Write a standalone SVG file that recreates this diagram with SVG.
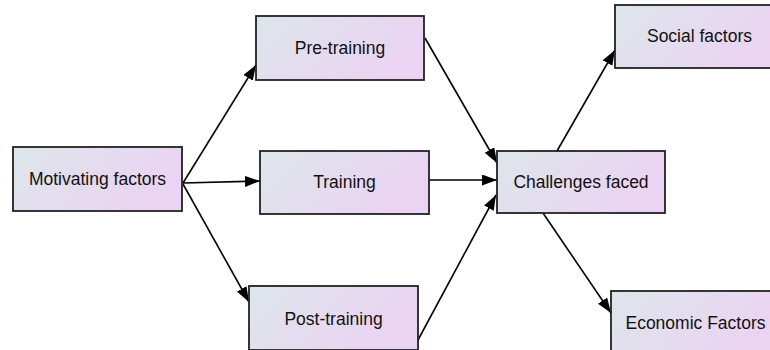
<svg xmlns="http://www.w3.org/2000/svg" width="770" height="350" viewBox="0 0 770 350">
<defs>
<linearGradient id="g" x1="0" y1="0" x2="1" y2="0.35">
<stop offset="0" stop-color="#dde6ea"/>
<stop offset="1" stop-color="#ebd3f3"/>
</linearGradient>
<marker id="arr" markerUnits="userSpaceOnUse" markerWidth="16" markerHeight="12" refX="15" refY="5.5" orient="auto">
<path d="M0,0 L15,5.5 L0,11 z" fill="#000"/>
</marker>
<style>
.box{fill:url(#g);stroke:#222;stroke-width:1.8}
.lbl{font-family:"Liberation Sans",Arial,sans-serif;font-size:17.5px;fill:#111;text-anchor:middle}
.edge{stroke:#000;stroke-width:1.6;fill:none;marker-end:url(#arr)}
</style>
</defs>
<rect width="770" height="350" fill="#fff"/>
<g id="connectors">
<line class="edge" x1="183" y1="183" x2="256" y2="65"/>
<line class="edge" x1="183" y1="183" x2="260" y2="181"/>
<line class="edge" x1="183" y1="184" x2="249" y2="302"/>
<line class="edge" x1="425" y1="38" x2="497" y2="163"/>
<line class="edge" x1="429" y1="180" x2="497" y2="180"/>
<line class="edge" x1="418" y1="340" x2="496" y2="195"/>
<line class="edge" x1="557" y1="151" x2="615" y2="50"/>
<line class="edge" x1="543" y1="213" x2="611" y2="313"/>
</g>
<g id="motivating"><rect class="box" x="13" y="147" width="169" height="64"/><text class="lbl" x="97.5" y="185">Motivating factors</text></g>
<g id="pretraining"><rect class="box" x="256" y="16" width="168" height="64"/><text class="lbl" x="340" y="54">Pre-training</text></g>
<g id="training"><rect class="box" x="260" y="151" width="169" height="63"/><text class="lbl" x="344.5" y="188">Training</text></g>
<g id="posttraining"><rect class="box" x="249" y="286" width="169" height="64"/><text class="lbl" x="333.5" y="325">Post-training</text></g>
<g id="challenges"><rect class="box" x="497" y="151" width="168" height="62"/><text class="lbl" x="581" y="188">Challenges faced</text></g>
<g id="social"><rect class="box" x="615" y="5" width="169" height="63"/><text class="lbl" x="699.5" y="42">Social factors</text></g>
<g id="economic"><rect class="box" x="611" y="291" width="169" height="64"/><text class="lbl" x="695.5" y="329">Economic Factors</text></g>
</svg>
